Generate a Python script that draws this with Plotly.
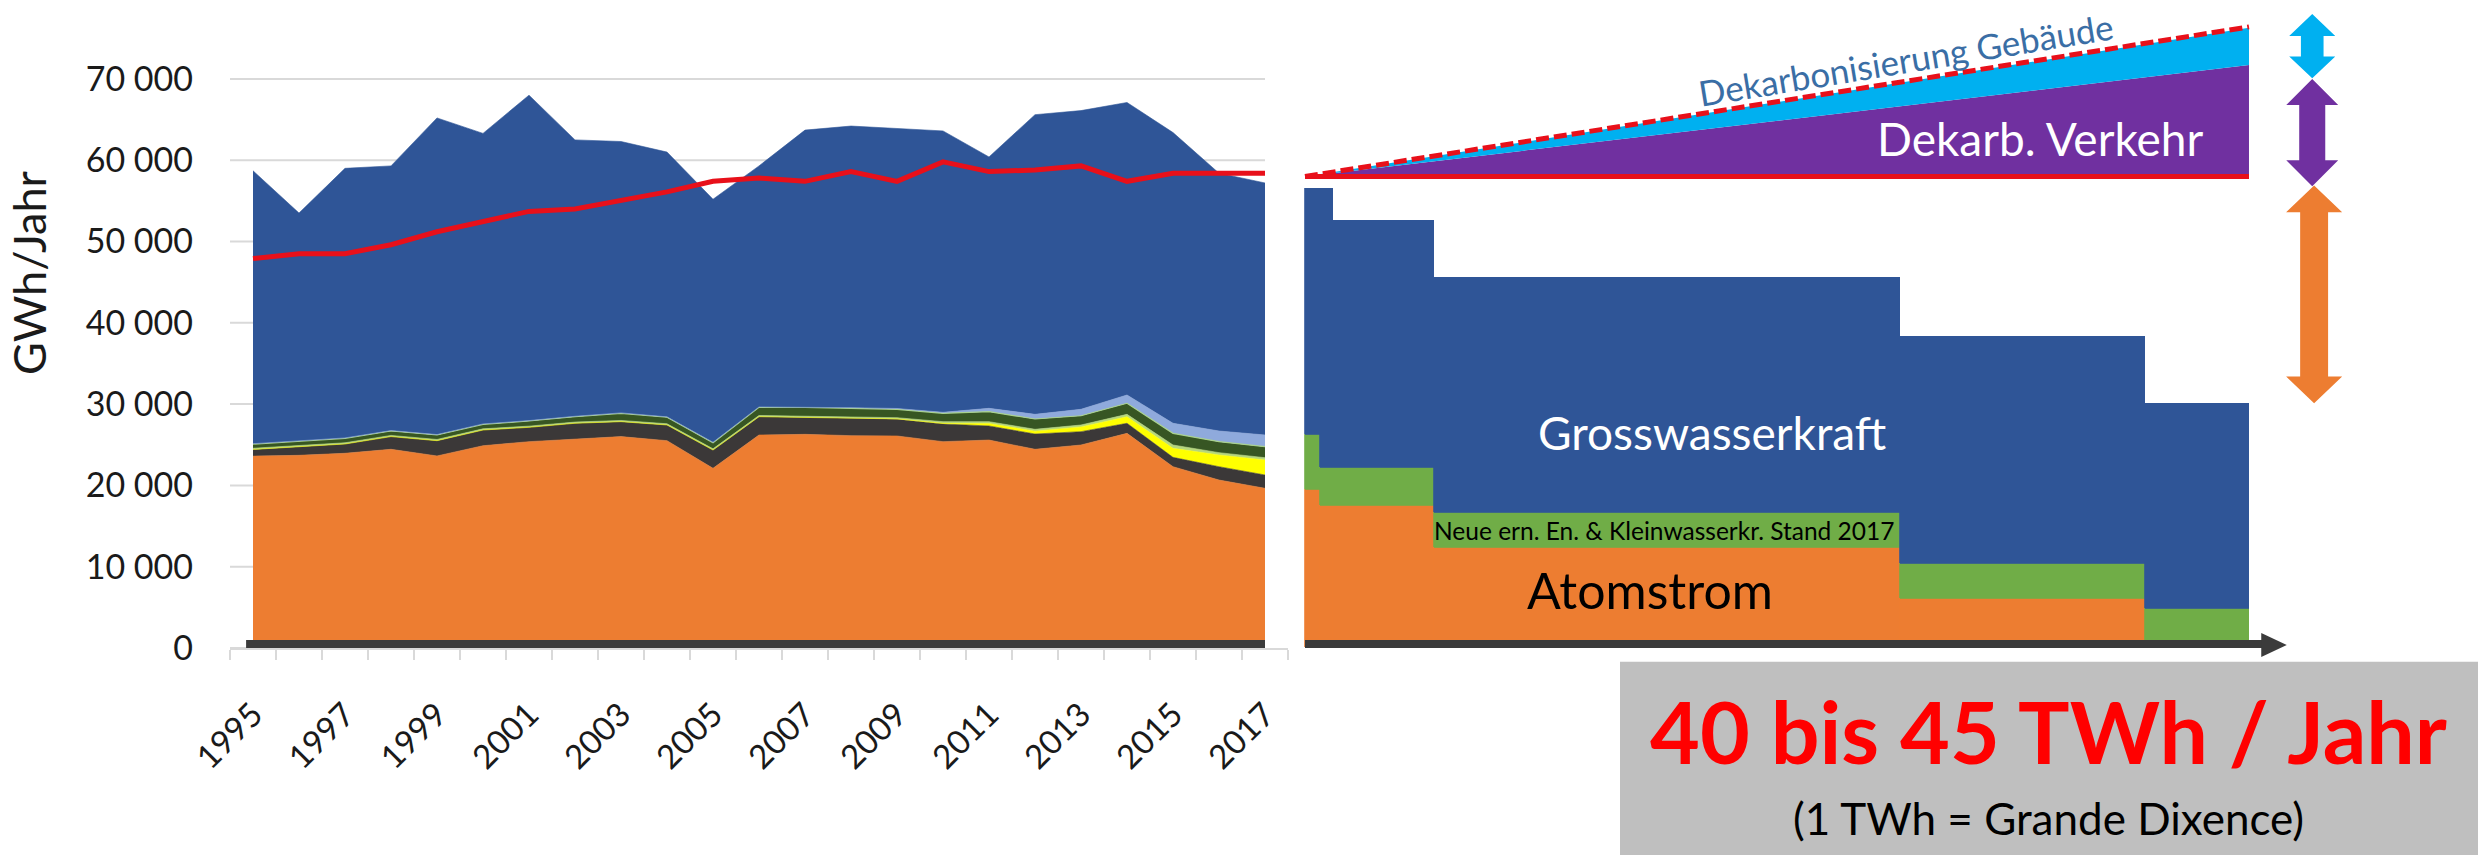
import plotly.graph_objects as go

W, H = 2478, 855
FONT = "Lato, 'Open Sans', sans-serif"

# ---------------- left panel data (GWh per year) ----------------
years = list(range(1995, 2018))
nuclear = [23600, 23700, 23950, 24440, 23620, 24880, 25380, 25710, 26000, 25500, 22100, 26200,
           26280, 26120, 26080, 25380, 25580, 24440, 24970, 26400, 22300, 20660, 19640]
thermal = [820, 1020, 1140, 1560, 1880, 1930, 1760, 1930, 1840, 1930, 2250, 2250,
           2100, 2130, 2050, 2170, 1730, 1880, 1640, 1240, 1150, 1640, 1640]
solar = [0, 0, 0, 0, 0, 0, 0, 0, 0, 0, 0, 0,
         0, 0, 50, 80, 300, 350, 580, 810, 1110, 1440, 1840]
wind = [150, 150, 150, 150, 150, 150, 150, 150, 150, 150, 150, 150,
        150, 150, 150, 210, 230, 230, 240, 290, 410, 290, 290]
biomass = [510, 550, 550, 540, 550, 550, 630, 660, 880, 800, 750, 1000,
           1070, 1080, 1030, 1030, 1230, 1270, 1140, 1360, 1430, 1350, 1350]
other_ren = [50, 50, 50, 50, 50, 50, 50, 50, 50, 50, 50, 50,
             50, 80, 100, 120, 410, 570, 790, 1020, 1240, 1310, 1440]
hydro = [33570, 28030, 33160, 32560, 38950, 35740, 40030, 34000, 33380, 32570, 29900, 29650,
         34050, 34640, 34440, 34610, 30920, 36860, 36740, 35980, 35760, 31710, 31000]
consumption = [47900, 48500, 48500, 49600, 51200, 52400, 53700, 54000, 55100, 56100, 57400, 57800,
               57400, 58600, 57400, 59800, 58600, 58800, 59300, 57400, 58400, 58400, 58400]

y_ticks = [0, 10000, 20000, 30000, 40000, 50000, 60000, 70000]
y_ticktext = ["0", "10 000", "20 000", "30 000", "40 000", "50 000", "60 000", "70 000"]
x_tickyears = years[::2]

# ---------------- right panel data (schematic outlook) ----------------
seg_edges = [0, 1.6, 3.0, 13.7, 63.0, 89.0, 100]
rp_nuclear = [19500, 17500, 17500, 12300, 6100, 0]
rp_newren = [6700, 4700, 4700, 4400, 4300, 4900]
rp_hydro = [30300, 34300, 30400, 28800, 27900, 25200]

wedge_x = [0, 100]
demand_base = [58000, 58000]
traffic_top = [58000, 71700]
buildings_top = [58000, 76300]
buildings_line = [58000, 76400]

arrow_x = [106.7, 106.7, 106.9]
arrow_lo = [70070, 56800, 30100]
arrow_hi = [77980, 70000, 56900]
arrow_col = ["#00B0F0", "#7030A0", "#ED7D31"]
arrow_head_hw = [2.44, 2.75, 2.97]
arrow_shaft_hw = [1.2, 1.38, 1.48]
arrow_head_h = [2700, 3200, 3300]

C_HYDRO = "#2F5597"
C_NUC = "#ED7D31"
C_THERM = "#3B3838"
C_SOLAR = "#FFFF00"
C_WIND = "#B5D77C"
C_BIO = "#375623"
C_OTHER = "#8FAADC"
C_RED = "#E8101A"
C_GREEN = "#70AD47"
C_GRID = "#D9D9D9"

fig = go.Figure()

layers = [
    ("Kernenergie", nuclear, C_NUC, C_NUC, 0.6),
    ("Konventionell-thermisch", thermal, C_THERM, C_THERM, 0.6),
    ("Photovoltaik", solar, C_SOLAR, C_SOLAR, 0.6),
    ("Wind", wind, C_WIND, C_WIND, 0.6),
    ("Biomasse", biomass, C_BIO, "#A9D18E", 1.2),
    ("Übrige erneuerbare", other_ren, C_OTHER, C_OTHER, 0.6),
    ("Grosswasserkraft", hydro, C_HYDRO, C_HYDRO, 0.6),
]
for name, vals, fc, lc, lw in layers:
    fig.add_trace(go.Scatter(
        x=years, y=vals, name=name, stackgroup="prod", mode="lines",
        fillcolor=fc, line=dict(color=lc, width=lw), showlegend=False,
        xaxis="x", yaxis="y"))

fig.add_trace(go.Scatter(
    x=years, y=consumption, name="Verbrauch", mode="lines",
    line=dict(color=C_RED, width=5), showlegend=False, xaxis="x", yaxis="y"))

# right panel: step bars
centers = [(a + b) / 2 for a, b in zip(seg_edges[:-1], seg_edges[1:])]
widths = [b - a for a, b in zip(seg_edges[:-1], seg_edges[1:])]
for name, vals, col in [("Atomstrom", rp_nuclear, C_NUC),
                        ("Neue ern. En. & Kleinwasserkr.", rp_newren, C_GREEN),
                        ("Grosswasserkraft", rp_hydro, C_HYDRO)]:
    fig.add_trace(go.Bar(
        x=centers, y=vals, width=widths, name=name,
        marker=dict(color=col, line=dict(color=col, width=0.8)),
        showlegend=False, xaxis="x2", yaxis="y2"))

# wedges
fig.add_trace(go.Scatter(
    x=[wedge_x[0], wedge_x[1], wedge_x[1], wedge_x[0]],
    y=[demand_base[0], demand_base[1], traffic_top[1], traffic_top[0]],
    fill="toself", fillcolor="#7030A0", line=dict(width=0), mode="lines",
    name="Dekarb. Verkehr", showlegend=False, xaxis="x2", yaxis="y2"))
fig.add_trace(go.Scatter(
    x=[wedge_x[0], wedge_x[1], wedge_x[1], wedge_x[0]],
    y=[traffic_top[0], traffic_top[1], buildings_top[1], buildings_top[0]],
    fill="toself", fillcolor="#00B0F0", line=dict(width=0), mode="lines",
    name="Dekarbonisierung Gebäude", showlegend=False, xaxis="x2", yaxis="y2"))
fig.add_trace(go.Scatter(
    x=wedge_x, y=demand_base, mode="lines", line=dict(color=C_RED, width=5),
    showlegend=False, xaxis="x2", yaxis="y2"))
fig.add_trace(go.Scatter(
    x=wedge_x, y=buildings_line, mode="lines", line=dict(color=C_RED, width=5, dash="13px,5px"),
    showlegend=False, xaxis="x2", yaxis="y2"))

shapes = []
# horizontal gridlines (left panel, end at last category)
for v in y_ticks:
    shapes.append(dict(type="line", xref="x", yref="y", x0=years[0] - 0.5, x1=years[-1],
                       y0=v, y1=v, line=dict(color=C_GRID, width=2), layer="below"))
# thick dark axis bar (left)
shapes.append(dict(type="line", xref="x", yref="y", x0=years[0] - 0.15, x1=years[-1],
                   y0=490, y1=490, line=dict(color="#3B3B3B", width=8), layer="above"))
# thick dark arrow axis (right)
shapes.append(dict(type="line", xref="x2", yref="y2", x0=seg_edges[0], x1=101.5,
                   y0=490, y1=490, line=dict(color="#3B3B3B", width=8), layer="above"))
shapes.append(dict(type="path", xref="x2", yref="y2",
                   path="M 101.3 1850 L 104.0 370 L 101.3 -1110 Z",
                   fillcolor="#3B3B3B", line=dict(width=0), layer="above"))

# double arrows
for xc, lo, hi, col, hhw, shw, hh in zip(arrow_x, arrow_lo, arrow_hi, arrow_col,
                                          arrow_head_hw, arrow_shaft_hw, arrow_head_h):
    pts = [(xc, hi), (xc + hhw, hi - hh), (xc + shw, hi - hh), (xc + shw, lo + hh),
           (xc + hhw, lo + hh), (xc, lo), (xc - hhw, lo + hh), (xc - shw, lo + hh),
           (xc - shw, hi - hh), (xc - hhw, hi - hh)]
    path = "M " + " L ".join(f"{px} {py}" for px, py in pts) + " Z"
    shapes.append(dict(type="path", xref="x2", yref="y2", path=path,
                       fillcolor=col, line=dict(width=0), layer="above"))

# grey box
shapes.append(dict(type="rect", xref="paper", yref="paper", x0=1620 / W, x1=1.0,
                   y0=0, y1=(H - 661.7) / H, fillcolor="#BFBFBF", line=dict(width=0), layer="below"))


def ann(text, x, y, size, color, xref="paper", yref="paper", angle=0):
    return dict(text=text, xref=xref, yref=yref, x=x, y=y, textangle=angle,
                xanchor="center", yanchor="middle", showarrow=False,
                font=dict(size=size, color=color, family=FONT))


annotations = [
    ann("GWh/Jahr", 29 / W, 1 - 273 / H, 45, "#1A1A1A", angle=-90),
    ann("Dekarbonisierung Gebäude", 63.7, 72450, 35, "#3A6EA5", "x2", "y2", angle=-9.3),
    ann("Dekarb. Verkehr", 77.9, 62730, 46, "white", "x2", "y2"),
    ann("Grosswasserkraft", 43.2, 26450, 46, "white", "x2", "y2"),
    ann("Neue ern. En. & Kleinwasserkr. Stand 2017", 38.0, 14500, 24.5, "black", "x2", "y2"),
    ann("Atomstrom", 36.5, 7130, 50, "black", "x2", "y2"),
    ann("<b>40 bis 45 TWh / Jahr</b>", 2048 / W, 1 - 730 / H, 86, "#FF0000"),
    ann("(1 TWh = Grande Dixence)", 2048 / W, 1 - 818 / H, 44, "black"),
]

PX_PER_GWH = 0.00813
Y_ZERO_PX = 648
ytop = 79500
ydom_left = [1 - Y_ZERO_PX / H, 1 - (Y_ZERO_PX - ytop * PX_PER_GWH) / H]
ybot2 = -5000
ydom_right = [1 - (Y_ZERO_PX - ybot2 * PX_PER_GWH) / H, ydom_left[1]]

fig.update_layout(
    width=W, height=H, margin=dict(l=0, r=0, t=0, b=0, pad=0),
    paper_bgcolor="white", plot_bgcolor="white", template=None,
    barmode="stack", bargap=0,
    font=dict(family=FONT, color="#1A1A1A"),
    xaxis=dict(domain=[230 / W, 1288 / W], range=[1994.5, 2017.5], anchor="y",
               tickmode="array", tickvals=x_tickyears, ticktext=[str(y) for y in x_tickyears],
               tickangle=-45, tickfont=dict(size=33, color="#1A1A1A"),
               showgrid=False, zeroline=False, showline=True, linecolor=C_GRID, linewidth=2,
               ticks="", ticklabelstandoff=32, automargin=False,
               minor=dict(tick0=1994.5, dtick=1, ticks="outside", ticklen=10,
                          tickcolor=C_GRID, tickwidth=2, showgrid=False)),
    yaxis=dict(domain=ydom_left, range=[0, ytop], anchor="x",
               tickmode="array", tickvals=y_ticks, ticktext=y_ticktext,
               tickfont=dict(size=34, color="#1A1A1A"),
               showgrid=False, zeroline=False,
               ticks="", ticklabelstandoff=36, automargin=False),
    xaxis2=dict(domain=[1290 / W, 1.0], range=[-1.589, 124.26], anchor="y2", visible=False),
    yaxis2=dict(domain=ydom_right, range=[ybot2, ytop], anchor="x2", visible=False),
    shapes=shapes, annotations=annotations, hovermode=False,
)

fig.write_html("out.html", config={"displayModeBar": False},
               post_script="document.body.style.margin='0';document.body.style.overflow='hidden';")
